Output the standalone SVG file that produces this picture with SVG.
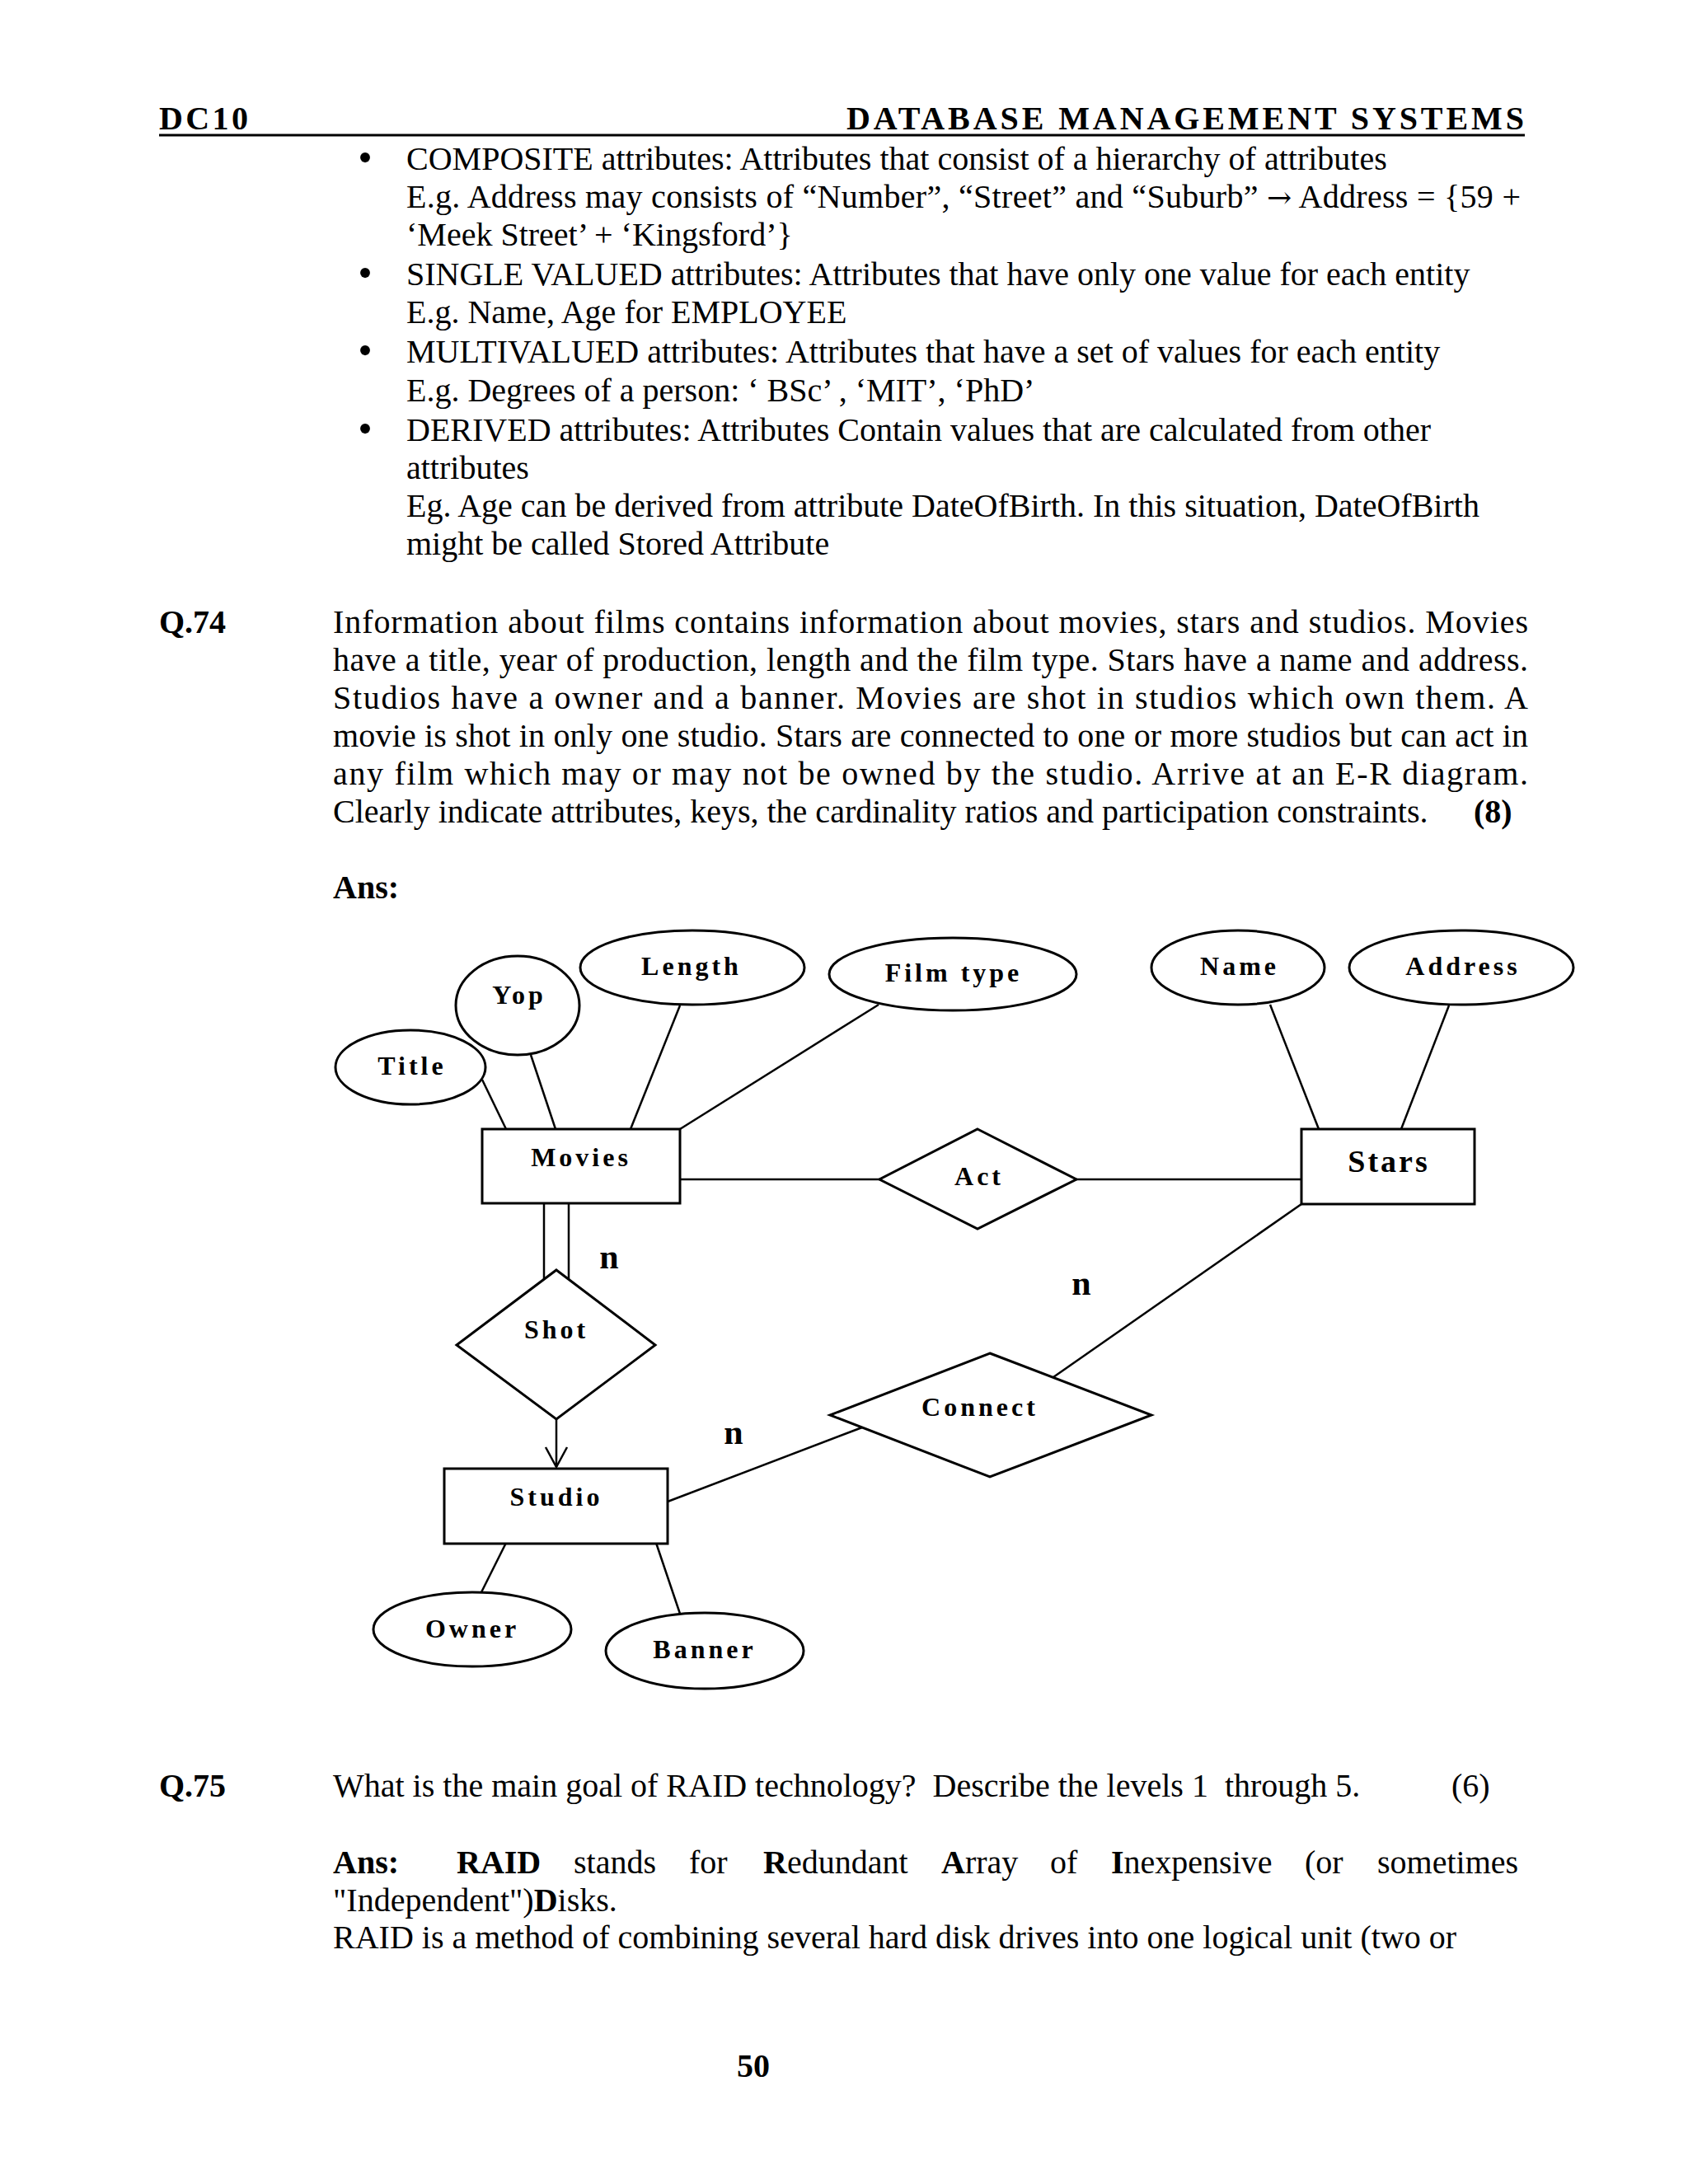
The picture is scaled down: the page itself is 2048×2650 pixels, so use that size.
<svg xmlns="http://www.w3.org/2000/svg" width="2048" height="2650" viewBox="0 0 2048 2650">
<style>
.t{font-family:"Liberation Serif","Times New Roman",serif;font-size:40px;fill:#000}
.b{font-weight:bold}
.bul{font-family:"Liberation Serif","Times New Roman",serif;font-size:50px;fill:#000;text-anchor:middle}
.ar{font-family:"DejaVu Serif",serif;font-size:36px}
.hd{font-family:"Liberation Serif","Times New Roman",serif;font-size:40px;font-weight:bold;fill:#000}
.lbl{font-family:"Liberation Serif","Times New Roman",serif;font-size:32px;font-weight:bold;letter-spacing:4px;fill:#000;text-anchor:middle}
.big{font-size:38px;letter-spacing:3px}
.n{font-family:"Liberation Serif","Times New Roman",serif;font-size:42px;font-weight:bold;fill:#000;text-anchor:middle}
.shape{fill:#fff;stroke:#000;stroke-width:3}
.ln{fill:none;stroke:#000;stroke-width:2.5}
</style>
<rect width="2048" height="2650" fill="#fff"/>

<!-- header -->
<text class="hd" x="193" y="157" textLength="108" lengthAdjust="spacing">DC10</text>
<text class="hd" x="1027" y="157" textLength="822" lengthAdjust="spacing">DATABASE MANAGEMENT SYSTEMS</text>
<line x1="193" y1="164" x2="1850" y2="164" stroke="#000" stroke-width="3"/>

<!-- bullets -->
<g class="t">
<text class="bul" x="443" y="208">•</text>
<text x="493" y="206">COMPOSITE attributes: Attributes that consist of a hierarchy of attributes</text>
<text x="493" y="252" textLength="1352" lengthAdjust="spacing">E.g. Address may consists of “Number”, “Street” and “Suburb” <tspan class="ar">→</tspan> Address = {59 +</text>
<text x="493" y="298">‘Meek Street’ + ‘Kingsford’}</text>
<text class="bul" x="443" y="348">•</text>
<text x="493" y="346">SINGLE VALUED attributes: Attributes that have only one value for each entity</text>
<text x="493" y="392">E.g. Name, Age for EMPLOYEE</text>
<text class="bul" x="443" y="442">•</text>
<text x="493" y="440">MULTIVALUED attributes: Attributes that have a set of values for each entity</text>
<text x="493" y="487">E.g. Degrees of a person: ‘ BSc’ , ‘MIT’, ‘PhD’</text>
<text class="bul" x="443" y="537">•</text>
<text x="493" y="535">DERIVED attributes: Attributes Contain values that are calculated from other</text>
<text x="493" y="581">attributes</text>
<text x="493" y="627">Eg. Age can be derived from attribute DateOfBirth. In this situation, DateOfBirth</text>
<text x="493" y="673">might be called Stored Attribute</text>
</g>

<!-- Q.74 -->
<g class="t">
<text class="b" x="193" y="768">Q.74</text>
<text x="404" y="768" textLength="1450" lengthAdjust="spacing">Information about films contains information about movies, stars and studios.  Movies</text>
<text x="404" y="814" textLength="1450" lengthAdjust="spacing">have a title, year of production, length and the film type.  Stars have a name and address.</text>
<text x="404" y="860" textLength="1450" lengthAdjust="spacing">Studios have a owner and a banner.  Movies are shot in studios which own them.  A</text>
<text x="404" y="906" textLength="1450" lengthAdjust="spacing">movie is shot in only one studio.  Stars are connected to one or more studios but can act in</text>
<text x="404" y="952" textLength="1450" lengthAdjust="spacing">any film which may or may not be owned by the studio. Arrive at an E-R diagram.</text>
<text x="404" y="998">Clearly indicate attributes, keys, the cardinality ratios and participation constraints.</text>
<text class="b" x="1788" y="998">(8)</text>
<text class="b" x="404" y="1090">Ans:</text>
</g>

<!-- connectors -->
<g id="connectors" class="ln">
<line x1="585" y1="1310" x2="614" y2="1370"/>
<line x1="644" y1="1280" x2="674" y2="1370"/>
<line x1="825" y1="1220" x2="765" y2="1370"/>
<line x1="1066" y1="1219" x2="825" y2="1370"/>
<line x1="1541" y1="1219" x2="1600" y2="1370"/>
<line x1="1758" y1="1220" x2="1700" y2="1370"/>
<line x1="825" y1="1431" x2="1067" y2="1431"/>
<line x1="1306" y1="1431" x2="1579" y2="1431"/>
<line x1="660" y1="1460" x2="660" y2="1552"/>
<line x1="690" y1="1460" x2="690" y2="1553"/>
<line x1="675" y1="1722" x2="675" y2="1780"/>
<polyline points="662,1756 675,1780 688,1756"/>
<line x1="1579" y1="1461" x2="1278" y2="1671"/>
<line x1="810" y1="1822" x2="1046" y2="1732"/>
<line x1="614" y1="1872" x2="584" y2="1932"/>
<line x1="796" y1="1872" x2="825" y2="1958"/>
</g>

<!-- attributes -->
<g id="title"><ellipse class="shape" cx="498" cy="1295" rx="91" ry="45"/><text class="lbl" x="500" y="1304">Title</text></g>
<g id="yop"><ellipse class="shape" cx="628" cy="1220" rx="75" ry="60"/><text class="lbl" x="630" y="1218">Yop</text></g>
<g id="length"><ellipse class="shape" cx="840" cy="1174" rx="136" ry="45"/><text class="lbl" x="839" y="1183">Length</text></g>
<g id="filmtype"><ellipse class="shape" cx="1156" cy="1182" rx="150" ry="44"/><text class="lbl" x="1157" y="1191">Film type</text></g>
<g id="name"><ellipse class="shape" cx="1502" cy="1174" rx="105" ry="45"/><text class="lbl" x="1504" y="1183">Name</text></g>
<g id="address"><ellipse class="shape" cx="1773" cy="1174" rx="136" ry="45"/><text class="lbl" x="1775" y="1183">Address</text></g>
<g id="owner"><ellipse class="shape" cx="573" cy="1977" rx="120" ry="45"/><text class="lbl" x="573" y="1987">Owner</text></g>
<g id="banner"><ellipse class="shape" cx="855" cy="2003" rx="120" ry="46"/><text class="lbl" x="855" y="2012">Banner</text></g>

<!-- entities -->
<g id="movies"><rect class="shape" x="585" y="1370" width="240" height="90"/><text class="lbl" x="705" y="1415">Movies</text></g>
<g id="stars"><rect class="shape" x="1579" y="1370" width="210" height="91"/><text class="lbl big" x="1685" y="1422">Stars</text></g>
<g id="studio"><rect class="shape" x="539" y="1782" width="271" height="91"/><text class="lbl" x="675" y="1827">Studio</text></g>

<!-- relationships -->
<g id="act"><polygon class="shape" points="1186,1370 1306,1431 1186,1491 1067,1431"/><text class="lbl" x="1188" y="1438">Act</text></g>
<g id="shot"><polygon class="shape" points="675,1541 795,1632 675,1722 554,1632"/><text class="lbl" x="675" y="1624">Shot</text></g>
<g id="connect"><polygon class="shape" points="1201,1642 1397,1717 1201,1792 1007,1717"/><text class="lbl" x="1189" y="1718">Connect</text></g>

<!-- cardinalities -->
<g id="cardinalities">
<text class="n" x="739" y="1539">n</text>
<text class="n" x="1312" y="1571">n</text>
<text class="n" x="890" y="1752">n</text>
</g>

<!-- Q.75 -->
<g class="t">
<text class="b" x="193" y="2180">Q.75</text>
<text x="404" y="2180" style="white-space:pre">What is the main goal of RAID technology?  Describe the levels 1  through 5.</text>
<text x="1761" y="2180">(6)</text>
<text class="b" x="404" y="2273">Ans:</text>
<text class="b" x="554" y="2273">RAID</text>
<text x="696" y="2273">stands</text>
<text x="836" y="2273">for</text>
<text x="926" y="2273"><tspan class="b">R</tspan>edundant</text>
<text x="1142" y="2273"><tspan class="b">A</tspan>rray</text>
<text x="1274" y="2273">of</text>
<text x="1348" y="2273"><tspan class="b">I</tspan>nexpensive</text>
<text x="1583" y="2273">(or</text>
<text x="1671" y="2273">sometimes</text>
<text x="404" y="2319">"Independent")<tspan class="b">D</tspan>isks.</text>
<text x="404" y="2364">RAID is a method of combining several hard disk drives into one logical unit (two or</text>
<text class="b" x="914" y="2520" text-anchor="middle">50</text>
</g>
</svg>
